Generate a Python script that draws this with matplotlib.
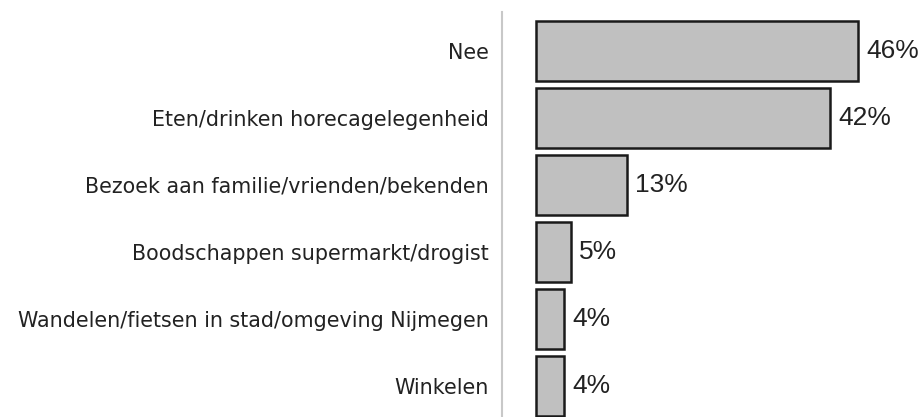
import matplotlib
matplotlib.use("Agg")
import matplotlib.pyplot as plt

categories = ["Nee", "Eten/drinken horecagelegenheid", "Bezoek aan familie/vrienden/bekenden",
              "Boodschappen supermarkt/drogist", "Wandelen/fietsen in stad/omgeving Nijmegen", "Winkelen"]
values = [46, 42, 13, 5, 4, 4]
labels = ["46%", "42%", "13%", "5%", "4%", "4%"]

fig = plt.figure(figsize=(9.23, 4.17), dpi=100)
ax = fig.add_axes([502 / 923, 0, 1 - 502 / 923, 1 - 12 / 417])

y = list(range(len(categories)))
ax.barh(y, values, height=0.9, color="#c0c0c0", edgecolor="#1a1a1a", linewidth=1.8)

for yi, v, t in zip(y, values, labels):
    ax.text(v + 8 / 7.0, yi, t, va="center", ha="left", fontsize=19,
            family="Liberation Sans", color="#222222")

ax.set_xlim(-34 / 7.0, 387 / 7.0)
ax.set_ylim(5.463, -0.582)
ax.set_yticks(y)
ax.set_yticklabels(categories, fontsize=14.9, color="#222222")
ax.tick_params(axis="y", length=0, pad=9.5)
ax.set_xticks([])
for s in ["top", "right", "bottom"]:
    ax.spines[s].set_visible(False)
ax.spines["left"].set_color("#c8c8c8")
ax.spines["left"].set_linewidth(1.5)

fig.savefig("out.png", dpi=100)
